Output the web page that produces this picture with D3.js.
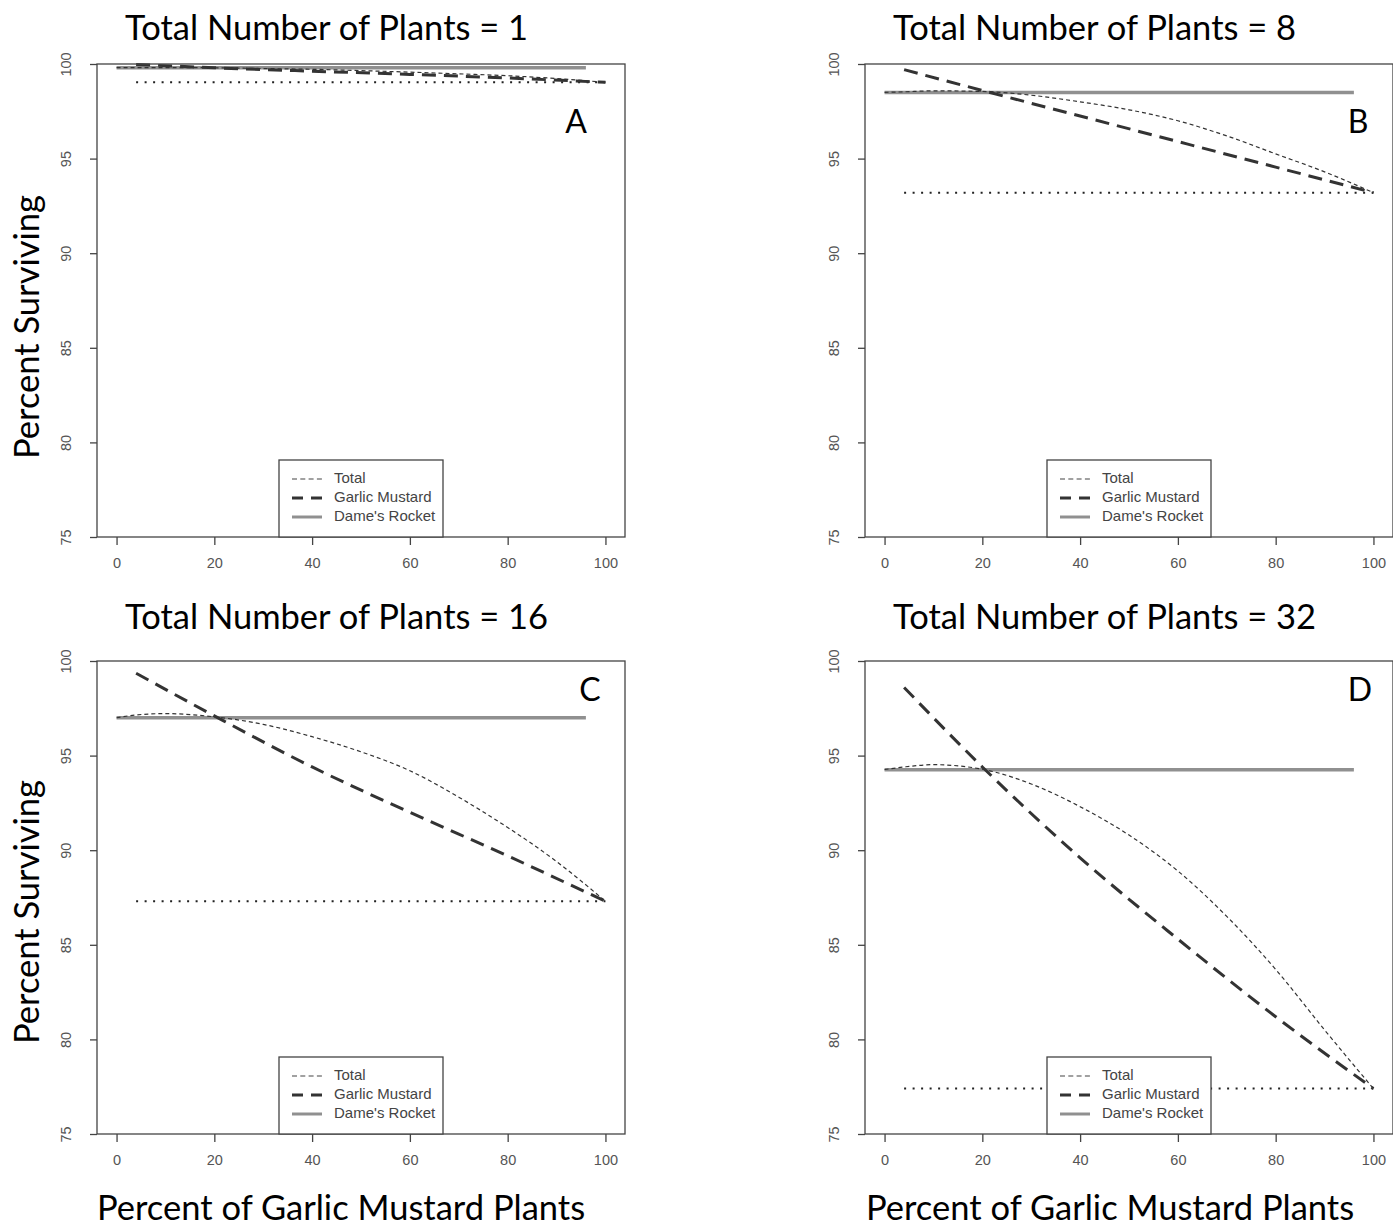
<!DOCTYPE html>
<html>
<head>
<meta charset="utf-8">
<script src="https://cdn.jsdelivr.net/npm/d3@7"></script>
<style>
    body { margin: 0; background: #fff; }
    svg text { font-family: "Liberation Sans", Arial, sans-serif; }
    .big { font-family: Lato, "Open Sans", sans-serif; fill: #000; }
</style>
</head>
<body>
<script>

/*
 * values (percent surviving vs. percent garlic mustard)
 */
var xTicks = [0, 20, 40, 60, 80, 100];
var yTicks = [75, 80, 85, 90, 95, 100];
var legendLabels = ['Total', 'Garlic Mustard', "Dame's Rocket"];

var panelTitles = ['Total Number of Plants = 1', 'Total Number of Plants = 8',
                   'Total Number of Plants = 16', 'Total Number of Plants = 32'];
var panelLetters = ['A', 'B', 'C', 'D'];

// Dame's Rocket (grey solid), flat from 0 to 96
var drX = [0, 96];
var drLevel = [99.8, 98.5, 97.0, 94.25];

// garlic mustard monoculture level (dotted), from 4 to 100
var monoX = [4, 100];
var monoLevel = [99.03, 93.2, 87.3, 77.4];

// Garlic Mustard (thick dashes)
var gmX = [4, 20, 40, 60, 80, 100];
var gmA = [99.98, 99.8, 99.62, 99.45, 99.26, 99.03];
var gmB = [99.7, 98.6, 97.25, 95.9, 94.55, 93.2];
var gmC = [99.35, 97.1, 94.4, 92.0, 89.7, 87.3];
var gmD = [98.6, 94.4, 89.6, 85.3, 81.2, 77.4];

// Total (thin dashes)
var totalX = [0, 4, 10, 20, 30, 40, 50, 60, 70, 80, 90, 100];
var totalA = [99.81, 99.81, 99.81, 99.8, 99.76, 99.72, 99.65, 99.57, 99.48, 99.38, 99.23, 99.03];
var totalB = [98.5, 98.53, 98.58, 98.55, 98.35, 98.0, 97.58, 97.0, 96.2, 95.25, 94.3, 93.2];
var totalC = [97.0, 97.15, 97.22, 97.05, 96.65, 96.0, 95.2, 94.2, 92.8, 91.2, 89.4, 87.3];
var totalD = [94.26, 94.4, 94.52, 94.28, 93.5, 92.3, 90.8, 88.9, 86.5, 83.7, 80.5, 77.4];

var gmSeries = [gmA, gmB, gmC, gmD];
var totalSeries = [totalA, totalB, totalC, totalD];

/*
 * layout
 */
var boxW = 528, boxH = 473;
var panels = [
    { left: 97,  top: 64,  titleY: 40,  letterDX: 479, letterDY: 69 },
    { left: 865, top: 64,  titleY: 40,  letterDX: 493, letterDY: 69 },
    { left: 97,  top: 661, titleY: 629, letterDX: 493, letterDY: 40 },
    { left: 865, top: 661, titleY: 629, letterDX: 495, letterDY: 40 }
];

var svg = d3.select('body').append('svg')
            .attr('width', 1393)
            .attr('height', 1229);

function drawPanel(i)
{
    var p = panels[i];
    var g = svg.append('g')
                .attr('transform', 'translate(' + p.left + ',' + p.top + ')');

    // R style: x range padded by 4%, y exact
    var x = d3.scaleLinear().domain([-4, 104]).range([0, boxW]);
    var y = d3.scaleLinear().domain([75, 100]).range([boxH, 0]);

    var line = d3.line()
                .x(function(d) { return x(d[0]); })
                .y(function(d) { return y(d[1]); });
    var smooth = d3.line()
                .x(function(d) { return x(d[0]); })
                .y(function(d) { return y(d[1]); })
                .curve(d3.curveMonotoneX);

    // Dame's Rocket
    g.append('path')
        .datum(drX.map(function(v) { return [v, drLevel[i]]; }))
        .attr('d', line)
        .attr('fill', 'none')
        .attr('stroke', '#909090')
        .attr('stroke-width', 3.5);

    // monoculture level
    g.append('path')
        .datum(monoX.map(function(v) { return [v, monoLevel[i]]; }))
        .attr('d', line)
        .attr('fill', 'none')
        .attr('stroke', '#222')
        .attr('stroke-width', 2)
        .attr('stroke-dasharray', '2,6.5');

    // Total
    g.append('path')
        .datum(d3.zip(totalX, totalSeries[i]))
        .attr('d', smooth)
        .attr('fill', 'none')
        .attr('stroke', '#333')
        .attr('stroke-width', 1.2)
        .attr('stroke-dasharray', '4,3');

    // Garlic Mustard
    g.append('path')
        .datum(d3.zip(gmX, gmSeries[i]))
        .attr('d', smooth)
        .attr('fill', 'none')
        .attr('stroke', '#333')
        .attr('stroke-width', 3)
        .attr('stroke-dasharray', '14,8');

    // box
    g.append('rect')
        .attr('width', boxW)
        .attr('height', boxH)
        .attr('fill', 'none')
        .attr('stroke', '#444')
        .attr('stroke-width', 1.3);

    // axes
    var xAxis = g.append('g')
                .attr('transform', 'translate(0,' + boxH + ')')
                .call(d3.axisBottom(x).tickValues(xTicks).tickSize(8).tickPadding(13));
    var yAxis = g.append('g')
                .call(d3.axisLeft(y).tickValues(yTicks).tickSize(7).tickPadding(0));
    [xAxis, yAxis].forEach(function(a) {
        a.select('.domain').remove();
        a.selectAll('line').attr('stroke', '#444').attr('stroke-width', 1.3);
        a.selectAll('text').attr('fill', '#555').style('font-size', '14.5px');
    });
    yAxis.selectAll('text')
        .attr('x', null).attr('dy', null)
        .attr('text-anchor', 'middle')
        .attr('transform', 'translate(-29,0) rotate(-90) translate(0,-1)')
        .attr('dominant-baseline', 'middle');

    // legend at the bottom, white background over the lines
    var lw = 164, lh = 77;
    var lg = g.append('g')
                .attr('transform', 'translate(' + (x(50) - lw / 2) + ',' + (boxH - lh) + ')');
    lg.append('rect')
        .attr('width', lw)
        .attr('height', lh)
        .attr('fill', '#fff')
        .attr('stroke', '#444')
        .attr('stroke-width', 1.3);
    var styles = [
        { stroke: '#444', width: 1.2, dash: '5,3.3' },
        { stroke: '#333', width: 3,   dash: '11,8' },
        { stroke: '#909090', width: 3, dash: null }
    ];
    legendLabels.forEach(function(lbl, k) {
        var ly = 19 + k * 19;
        lg.append('line')
            .attr('x1', 13).attr('x2', 43)
            .attr('y1', ly).attr('y2', ly)
            .attr('stroke', styles[k].stroke)
            .attr('stroke-width', styles[k].width)
            .attr('stroke-dasharray', styles[k].dash);
        lg.append('text')
            .attr('x', 55)
            .attr('y', ly)
            .attr('dominant-baseline', 'middle')
            .attr('fill', '#444')
            .style('font-size', '15px')
            .text(lbl);
    });

    // panel letter
    g.append('text')
        .attr('class', 'big')
        .attr('x', p.letterDX)
        .attr('y', p.letterDY)
        .attr('text-anchor', 'middle')
        .style('font-size', '32px')
        .text(panelLetters[i]);

    // title
    svg.append('text')
        .attr('class', 'big')
        .attr('x', p.left + 28)
        .attr('y', p.titleY)
        .style('font-size', '34.5px')
        .text(panelTitles[i]);
}

for (var i = 0; i < panels.length; i++)
{
    drawPanel(i);
}

// axis titles
[327, 912].forEach(function(cy) {
    svg.append('text')
        .attr('class', 'big')
        .attr('transform', 'translate(39,' + cy + ') rotate(-90)')
        .attr('text-anchor', 'middle')
        .style('font-size', '34.5px')
        .text('Percent Surviving');
});
[97, 866].forEach(function(lx) {
    svg.append('text')
        .attr('class', 'big')
        .attr('x', lx)
        .attr('y', 1220)
        .style('font-size', '34.5px')
        .text('Percent of Garlic Mustard Plants');
});

</script>
</body>
</html>
